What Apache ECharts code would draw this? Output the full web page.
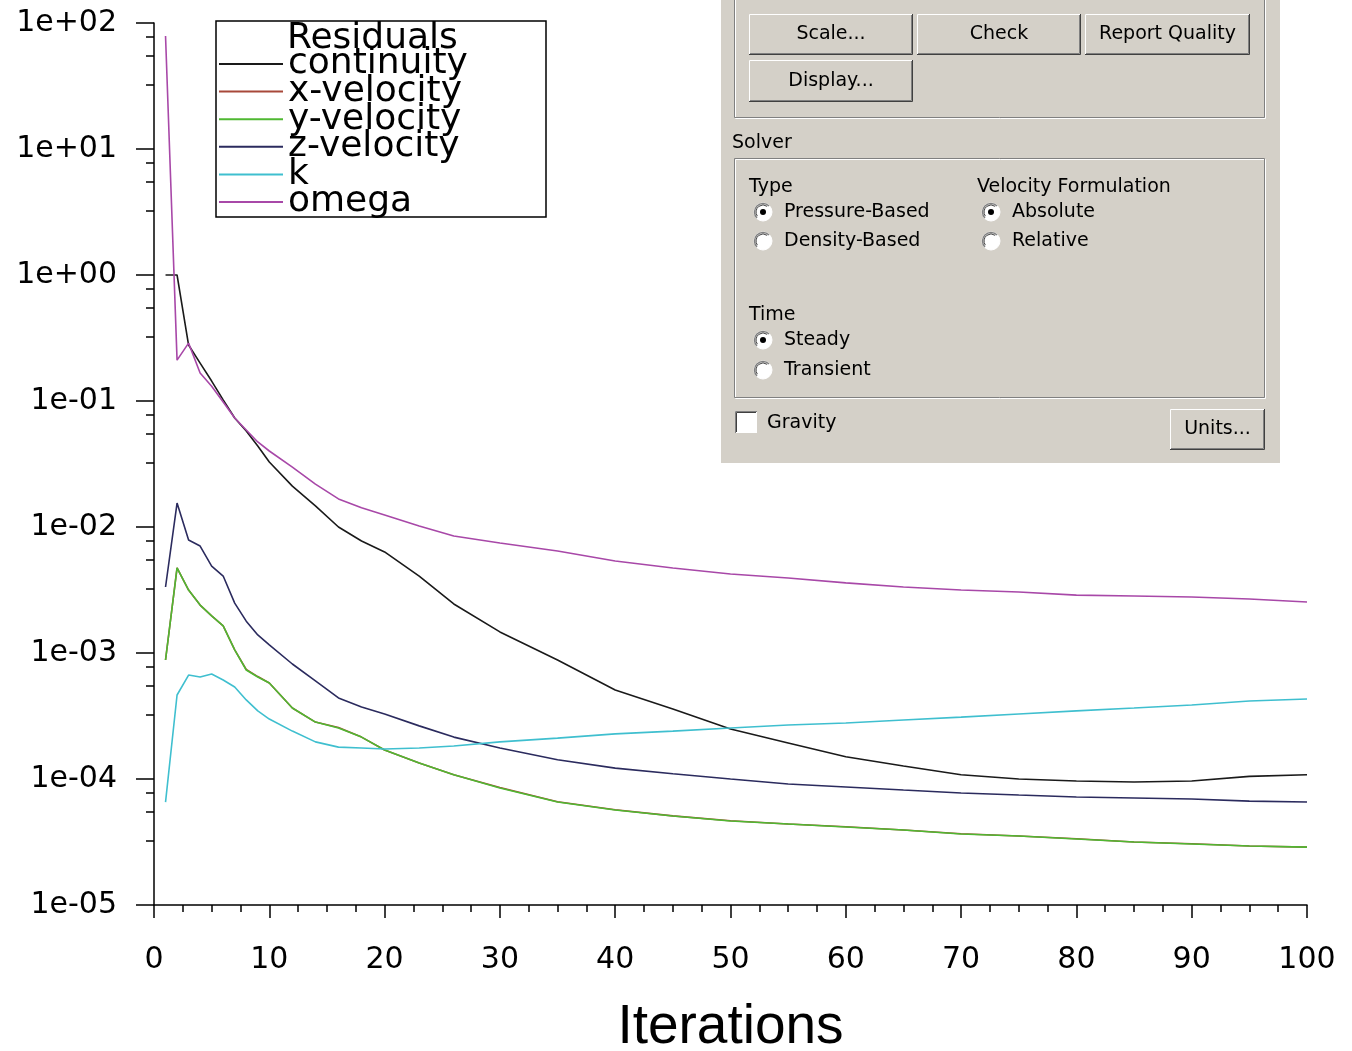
<!DOCTYPE html>
<html>
<head>
<meta charset="utf-8">
<title>Residuals</title>
<script src="https://cdn.jsdelivr.net/npm/echarts@6/dist/echarts.min.js"></script>
<style>
    html, body { margin: 0; padding: 0; background: #fff; }
    #chart { width: 1352px; height: 1051px; }
</style>
</head>
<body>
<div id="chart"></div>
<script>
// iterations (not every iteration, just enough to follow the curves)
var iterations = [1, 2, 3, 4, 5, 6, 7, 8, 9, 10, 12, 14, 16, 18, 20, 23, 26, 30, 35, 40,
    45, 50, 55, 60, 65, 70, 75, 80, 85, 90, 95, 100];

var continuity = [1, 1, 0.278, 0.200, 0.144, 0.102, 0.0733, 0.0578, 0.0440, 0.0328,
    0.0211, 0.0147, 0.0100, 0.00774, 0.00634, 0.00408, 0.00245, 0.00147, 8.8e-4, 5.08e-4,
    3.6e-4, 2.49e-4, 1.93e-4, 1.50e-4, 1.27e-4, 1.08e-4, 1.0e-4, 9.64e-5, 9.46e-5, 9.64e-5,
    1.05e-4, 1.08e-4];

var xVelocity = [8.80e-4, 4.73e-3, 3.16e-3, 2.40e-3, 1.97e-3, 1.64e-3, 1.06e-3, 7.40e-4, 6.50e-4, 5.78e-4,
    3.66e-4, 2.83e-4, 2.56e-4, 2.15e-4, 1.70e-4, 1.34e-4, 1.08e-4, 8.55e-5, 6.60e-5, 5.70e-5,
    5.10e-5, 4.66e-5, 4.40e-5, 4.18e-5, 3.94e-5, 3.68e-5, 3.53e-5, 3.36e-5, 3.16e-5, 3.06e-5,
    2.94e-5, 2.88e-5];

var yVelocity = [8.80e-4, 4.73e-3, 3.16e-3, 2.40e-3, 1.97e-3, 1.64e-3, 1.06e-3, 7.33e-4, 6.45e-4, 5.78e-4,
    3.66e-4, 2.83e-4, 2.54e-4, 2.15e-4, 1.70e-4, 1.34e-4, 1.08e-4, 8.49e-5, 6.56e-5, 5.68e-5,
    5.08e-5, 4.64e-5, 4.40e-5, 4.16e-5, 3.94e-5, 3.66e-5, 3.53e-5, 3.34e-5, 3.16e-5, 3.05e-5,
    2.94e-5, 2.88e-5];

var zVelocity = [3.34e-3, 0.0155, 7.88e-3, 7.06e-3, 4.90e-3, 4.08e-3, 2.49e-3, 1.79e-3, 1.39e-3, 1.16e-3,
    8.18e-4, 6.0e-4, 4.40e-4, 3.73e-4, 3.28e-4, 2.64e-4, 2.15e-4, 1.76e-4, 1.42e-4, 1.22e-4,
    1.10e-4, 1.0e-4, 9.12e-5, 8.65e-5, 8.18e-5, 7.74e-5, 7.46e-5, 7.20e-5, 7.06e-5, 6.93e-5,
    6.68e-5, 6.56e-5];

var kResidual = [6.56e-5, 4.64e-4, 6.68e-4, 6.45e-4, 6.81e-4, 6.11e-4, 5.37e-4, 4.24e-4, 3.47e-4, 2.99e-4,
    2.40e-4, 1.97e-4, 1.79e-4, 1.76e-4, 1.73e-4, 1.76e-4, 1.83e-4, 1.97e-4, 2.11e-4, 2.28e-4,
    2.40e-4, 2.54e-4, 2.68e-4, 2.78e-4, 2.94e-4, 3.10e-4, 3.28e-4, 3.47e-4, 3.66e-4, 3.87e-4,
    4.16e-4, 4.31e-4];

var omega = [78.9, 0.211, 0.288, 0.167, 0.131, 0.0982, 0.0733, 0.0589, 0.0473, 0.0401,
    0.0299, 0.0219, 0.0167, 0.0142, 0.01245, 0.01019, 0.00849, 0.00746, 0.00645, 0.00537,
    0.00473, 0.00424, 0.00394, 0.00360, 0.00334, 0.00316, 0.00305, 0.00288, 0.00283, 0.00278,
    0.00268, 0.00254];

var seriesNames = ['continuity', 'x-velocity', 'y-velocity', 'z-velocity', 'k', 'omega'];
var seriesValues = [continuity, xVelocity, yVelocity, zVelocity, kResidual, omega];

// tick labels
var xTicks = [0, 10, 20, 30, 40, 50, 60, 70, 80, 90, 100];
var yDecades = [-5, -4, -3, -2, -1, 0, 1, 2];

var lineColors = ['#1a1a1a', '#a8483a', '#4fb832', '#2b2b5e', '#3fbfcf', '#a848a8'];
var uiFont = 'DejaVu Sans';
var panelBg = '#d4d0c8';

window.onload = function () {
    var chart = echarts.init(document.getElementById('chart'));
    chart.setOption({
        animation: false,
        backgroundColor: '#ffffff',
        // fixed plot box; don't let labels/name push it around
        grid: { left: 154, right: 45, top: 23, bottom: 146, containLabel: false, outerBoundsMode: 'none' },
        legend: {
            data: seriesNames,
            orient: 'vertical',
            left: 219,
            top: 46,
            padding: 0,
            // entries overlap in the original, so the gap is negative
            itemGap: -8.4,
            itemWidth: 64,
            itemHeight: 2,
            icon: 'rect',
            selectedMode: false,
            textStyle: { fontFamily: uiFont, fontSize: 36, color: '#000' }
        },
        xAxis: {
            type: 'value',
            min: xTicks[0],
            max: xTicks[xTicks.length - 1],
            interval: 10,
            name: 'Iterations',
            nameLocation: 'middle',
            nameGap: 95,
            nameTextStyle: { fontFamily: 'Liberation Sans', fontSize: 55, color: '#000' },
            axisLine: { lineStyle: { color: '#000', width: 1.5 } },
            axisTick: { length: 13, lineStyle: { color: '#000', width: 1.5 } },
            minorTick: { show: true, splitNumber: 4, length: 7, lineStyle: { color: '#000', width: 1.5 } },
            axisLabel: { margin: 40, fontFamily: uiFont, fontSize: 30, color: '#000' },
            splitLine: { show: false }
        },
        yAxis: {
            type: 'log',
            logBase: 10,
            min: Math.pow(10, yDecades[0]),
            max: Math.pow(10, yDecades[yDecades.length - 1]),
            splitNumber: yDecades.length - 1,
            axisLine: { lineStyle: { color: '#000', width: 1.5 } },
            axisTick: { length: 18, lineStyle: { color: '#000', width: 1.5 } },
            minorTick: { show: true, splitNumber: 4, length: 8, lineStyle: { color: '#000', width: 1.5 } },
            axisLabel: {
                margin: 37,
                padding: [10, 0, 0, 0],
                fontFamily: uiFont,
                fontSize: 30,
                color: '#000',
                formatter: function (v) {
                    var e = Math.round(Math.log10(v));
                    var s = Math.abs(e) < 10 ? '0' + Math.abs(e) : '' + Math.abs(e);
                    return '1e' + (e < 0 ? '-' : '+') + s;
                }
            },
            splitLine: { show: false }
        },
        series: seriesNames.map(function (name, i) {
            return {
                name: name,
                type: 'line',
                symbol: 'none',
                showSymbol: false,
                itemStyle: { color: lineColors[i] },
                lineStyle: { color: lineColors[i], width: 1.6 },
                data: iterations.map(function (it, j) { return [it, seriesValues[i][j]]; })
            };
        }),
        graphic: legendBox().concat(solverPanel())
    });
}

// the framed box behind the legend, with its "Residuals" heading
function legendBox() {
    return [
        { type: 'rect', z: 0, shape: { x: 216, y: 21, width: 330, height: 196 },
          style: { fill: '#fff', stroke: '#000', lineWidth: 1.5 } },
        { type: 'text', z: 5, style: { text: 'Residuals', x: 287, y: 39, fontFamily: uiFont, fontSize: 36,
          fill: '#000', verticalAlign: 'middle' } }
    ];
}

function label(text, x, y, align) {
    return { type: 'text', style: { text: text, x: x, y: y, fontFamily: uiFont, fontSize: 19, fill: '#000',
        align: align || 'left', verticalAlign: 'middle' } };
}

function button(x, y, w, h, text) {
    return { type: 'group', children: [
        { type: 'rect', shape: { x: x, y: y, width: w, height: h }, style: { fill: panelBg } },
        { type: 'polyline', shape: { points: [[x + 0.5, y + h], [x + 0.5, y + 0.5], [x + w, y + 0.5]] },
          style: { stroke: '#fff', lineWidth: 1, fill: null } },
        { type: 'polyline', shape: { points: [[x, y + h - 0.5], [x + w - 0.5, y + h - 0.5], [x + w - 0.5, y]] },
          style: { stroke: '#404040', lineWidth: 1, fill: null } },
        { type: 'polyline', shape: { points: [[x + 1, y + h - 1.5], [x + w - 1.5, y + h - 1.5], [x + w - 1.5, y + 1]] },
          style: { stroke: '#808080', lineWidth: 1, fill: null } },
        label(text, x + w / 2, y + h / 2, 'center')
    ] };
}

function groupFrame(x, y, w, h) {
    return { type: 'group', children: [
        { type: 'rect', shape: { x: x + 1.5, y: y + 1.5, width: w, height: h }, style: { fill: null, stroke: '#fff', lineWidth: 1 } },
        { type: 'rect', shape: { x: x + 0.5, y: y + 0.5, width: w, height: h }, style: { fill: null, stroke: '#808080', lineWidth: 1 } }
    ] };
}

function radio(cx, cy, text, checked) {
    var kids = [
        { type: 'circle', shape: { cx: cx, cy: cy, r: 9 }, style: { fill: '#fff', stroke: '#fff', lineWidth: 1 } },
        { type: 'arc', shape: { cx: cx, cy: cy, r: 8.5, startAngle: Math.PI * 0.75, endAngle: Math.PI * 1.75 },
          style: { stroke: '#808080', lineWidth: 1.5, fill: null } },
        { type: 'arc', shape: { cx: cx, cy: cy, r: 7, startAngle: Math.PI * 0.8, endAngle: Math.PI * 1.7 },
          style: { stroke: '#404040', lineWidth: 1, fill: null } },
        label(text, cx + 21, cy)
    ];
    if (checked) {
        kids.push({ type: 'circle', shape: { cx: cx, cy: cy, r: 3 }, style: { fill: '#000' } });
    }
    return { type: 'group', children: kids };
}

// the Fluent settings panel that sits over the upper right of the plot
function solverPanel() {
    var items = [
        { type: 'rect', shape: { x: 721, y: 0, width: 559, height: 463 }, style: { fill: panelBg } },
        groupFrame(734, -10, 530, 127),
        button(749, 14, 164, 41, 'Scale...'),
        button(917, 14, 164, 41, 'Check'),
        button(1085, 14, 165, 41, 'Report Quality'),
        button(749, 60, 164, 42, 'Display...'),
        label('Solver', 732, 143),
        groupFrame(734, 158, 530, 239),
        label('Type', 749, 187),
        radio(763, 212, 'Pressure-Based', true),
        radio(763, 241, 'Density-Based', false),
        label('Velocity Formulation', 977, 187),
        radio(991, 212, 'Absolute', true),
        radio(991, 241, 'Relative', false),
        label('Time', 749, 315),
        radio(763, 340, 'Steady', true),
        radio(763, 370, 'Transient', false),
        { type: 'rect', shape: { x: 735, y: 411, width: 22, height: 22 }, style: { fill: '#fff' } },
        { type: 'polyline', shape: { points: [[735.5, 433], [735.5, 411.5], [757, 411.5]] },
          style: { stroke: '#808080', lineWidth: 1, fill: null } },
        { type: 'polyline', shape: { points: [[736.5, 432], [736.5, 412.5], [756, 412.5]] },
          style: { stroke: '#404040', lineWidth: 1, fill: null } },
        label('Gravity', 767, 423),
        button(1170, 409, 95, 41, 'Units...')
    ];
    return [{ type: 'group', z: 100, children: items }];
}
</script>
</body>
</html>
